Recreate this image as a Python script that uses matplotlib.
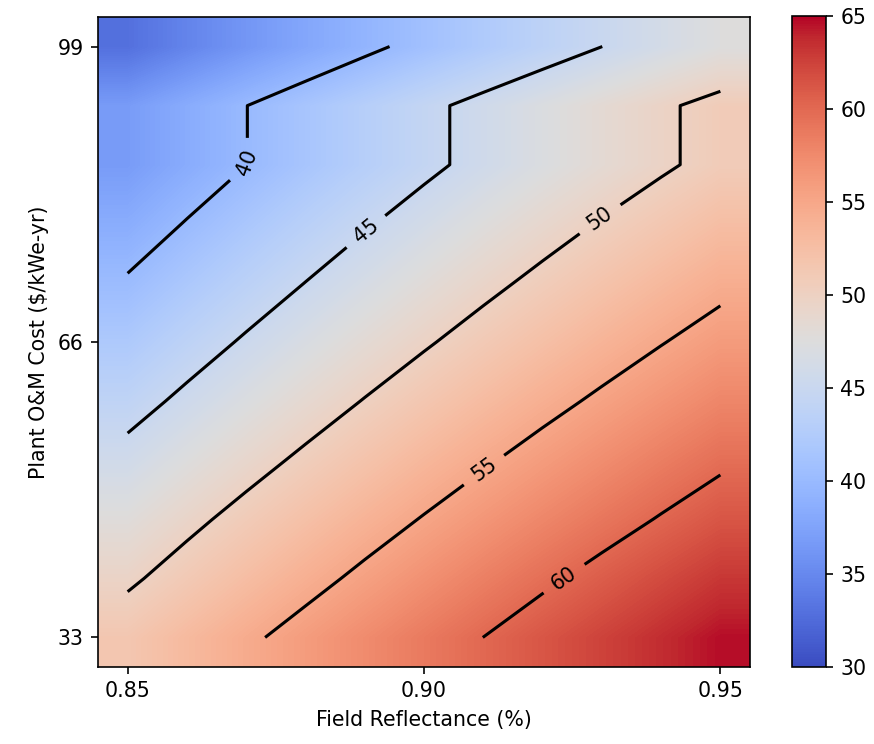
import matplotlib
matplotlib.use('Agg')
import matplotlib.pyplot as plt
import numpy as np

#================ data =======================================

#field reflectance (x) and plant O&M cost (y) grid
reflectance = [0.85, 0.86, 0.87, 0.88, 0.89, 0.90, 0.91, 0.92, 0.93, 0.94, 0.95]
om_cost = [33.0, 39.6, 46.2, 52.8, 59.4, 66.0, 72.6, 79.2, 85.8, 92.4, 99.0]

#value on the grid, one row per O&M cost (bottom row first)
row_33 = [51.51, 53.05, 54.54, 55.98, 57.38, 58.72, 60.01, 61.26, 62.45, 63.59, 64.69]
row_40 = [49.56, 51.14, 52.67, 54.14, 55.57, 56.95, 58.28, 59.56, 60.78, 61.96, 63.09]
row_46 = [47.76, 49.34, 50.87, 52.34, 53.77, 55.15, 56.48, 57.76, 58.98, 60.16, 61.29]
row_53 = [45.87, 47.46, 49.01, 50.50, 51.95, 53.35, 54.69, 55.99, 57.23, 58.43, 59.57]
row_59 = [43.97, 45.58, 47.14, 48.65, 50.11, 51.52, 52.88, 54.19, 55.44, 56.65, 57.81]
row_66 = [42.12, 43.74, 45.31, 46.83, 48.30, 49.71, 51.08, 52.40, 53.67, 54.89, 56.06]
row_73 = [40.29, 41.92, 43.50, 45.03, 46.51, 47.94, 49.32, 50.65, 51.93, 53.16, 54.33]
row_79 = [38.51, 40.15, 41.73, 43.27, 44.75, 46.18, 47.57, 48.90, 50.19, 51.42, 52.60]
row_86 = [36.76, 38.39, 39.97, 41.50, 42.98, 44.40, 45.78, 47.11, 48.39, 49.62, 50.80]
row_92 = [36.76, 38.39, 39.97, 41.50, 42.98, 44.40, 45.78, 47.11, 48.39, 49.62, 50.80]
row_99 = [32.97, 34.65, 36.28, 37.86, 39.38, 40.86, 42.29, 43.67, 44.99, 46.27, 47.50]

contour_levels = [40, 45, 50, 55, 60]
x_ticks = [0.85, 0.90, 0.95]
y_ticks = [33, 66, 99]

#=============================================================

Z = np.array([row_33, row_40, row_46, row_53, row_59, row_66,
              row_73, row_79, row_86, row_92, row_99])
x = np.array(reflectance)
y = np.array(om_cost)

#half cell padding so the grid points sit at the pixel centres
dx = (x[1] - x[0]) / 2.
dy = (y[1] - y[0]) / 2.
extent = [x[0] - dx, x[-1] + dx, y[0] - dy, y[-1] + dy]

fig = plt.figure(figsize=(874/148., 744/148.), dpi=148)
ax = fig.add_axes([98/874., 77/744., 652/874., 650/744.])
cax = fig.add_axes([792/874., 77/744., 34/874., 651/744.])

im = ax.imshow(Z, origin='lower', extent=extent, cmap='coolwarm',
               vmin=30, vmax=65, interpolation='bilinear', aspect='auto')

cs = ax.contour(x, y, Z, levels=contour_levels, colors='k')

#label spots picked to match the original figure
label_spots = [(0.870, 86.0), (0.890, 78.5), (0.9295, 79.9),
               (0.910, 51.8), (0.9236, 39.6)]
ax.clabel(cs, inline=True, inline_spacing=12, fontsize=10, fmt='%d',
          manual=label_spots)

ax.set_xticks(x_ticks)
ax.set_xticklabels(['%.2f' % t for t in x_ticks])
ax.set_yticks(y_ticks)
ax.set_xlabel('Field Reflectance (%)')
ax.set_ylabel(r'Plant O&M Cost (\$/kWe-yr)')

fig.colorbar(im, cax=cax)

plt.savefig('out.png', dpi=148)
